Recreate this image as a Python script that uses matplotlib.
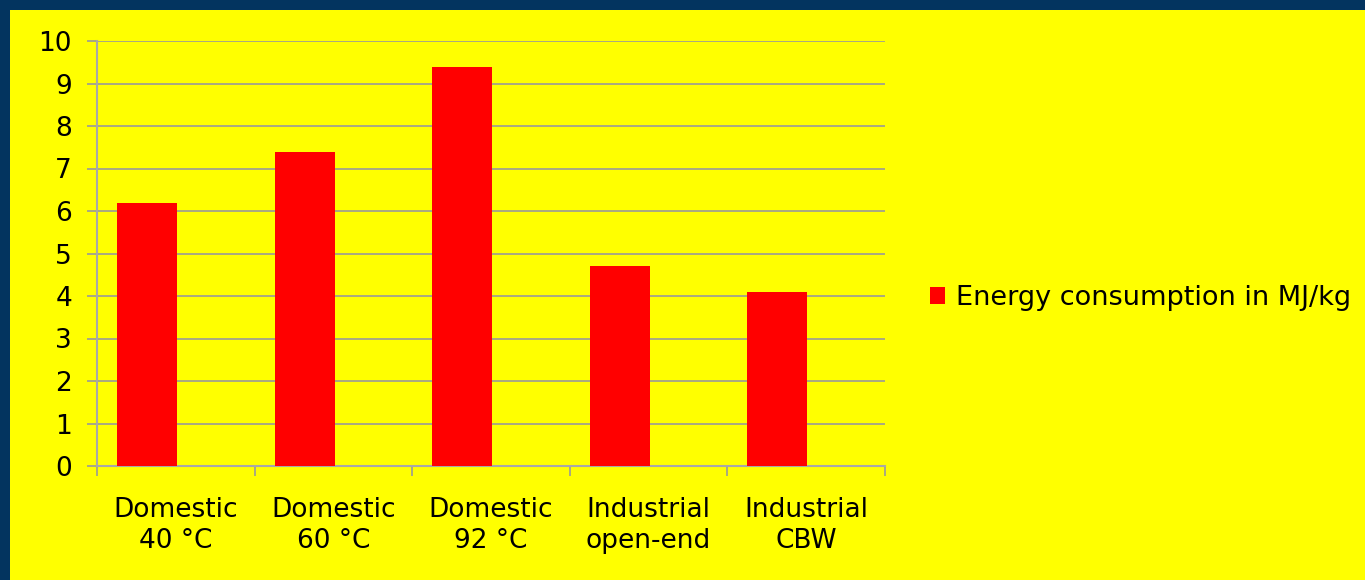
import matplotlib.pyplot as plt
import matplotlib.patches as mpatches
import numpy as np

categories = ['Domestic\n40 °C', 'Domestic\n60 °C', 'Domestic\n92 °C',
              'Industrial\nopen-end', 'Industrial\nCBW']
energy = [6.2, 7.4, 9.4, 4.7, 4.1]
series_name = 'Energy consumption in MJ/kg'
yticks = list(range(0, 11))

navy = '#03345F'
yellow = '#FFFF00'
red = '#FF0000'
grid_grey = '#999999'

fig = plt.figure(figsize=(13.65, 5.8), dpi=100, facecolor=navy)
fig.patches.append(mpatches.Rectangle((10 / 1365, 0), 1, 1 - 10 / 580,
                                      transform=fig.transFigure,
                                      facecolor=yellow, edgecolor='none', zorder=-10))

ax = fig.add_axes([97 / 1365, 1 - 466 / 580, 788 / 1365, 425 / 580])
ax.set_facecolor(yellow)

x = np.arange(len(categories))
ax.bar(x - 0.183, energy, width=0.38, color=red, zorder=3, label=series_name)

ax.set_xlim(-0.5, len(categories) - 0.5)
ax.set_ylim(0, 10)
ax.set_yticks(yticks)
ax.yaxis.grid(True, color=grid_grey, linewidth=1.2, zorder=0)
ax.set_axisbelow(True)

ax.set_xticks(x)
ax.set_xticklabels(categories, fontsize=19, linespacing=1.25)
ax.set_xticks(np.arange(-0.5, len(categories)), minor=True)
ax.tick_params(axis='x', which='major', length=0, pad=22)
ax.tick_params(axis='x', which='minor', length=7, width=1.2, color=grid_grey)
ax.tick_params(axis='y', length=7, width=1.2, color=grid_grey, pad=11, labelsize=19)

for s in ['top', 'right']:
    ax.spines[s].set_visible(False)
for s in ['left', 'bottom']:
    ax.spines[s].set_color('#A8A8A8')
    ax.spines[s].set_linewidth(1.5)

fig.legend(loc='center left', bbox_to_anchor=(906 / 1365, 1 - 298 / 580),
           frameon=False, fontsize=19.5, handlelength=0.55, handleheight=0.55,
           handletextpad=0.4)

fig.savefig('out.png', dpi=100, facecolor=navy)
